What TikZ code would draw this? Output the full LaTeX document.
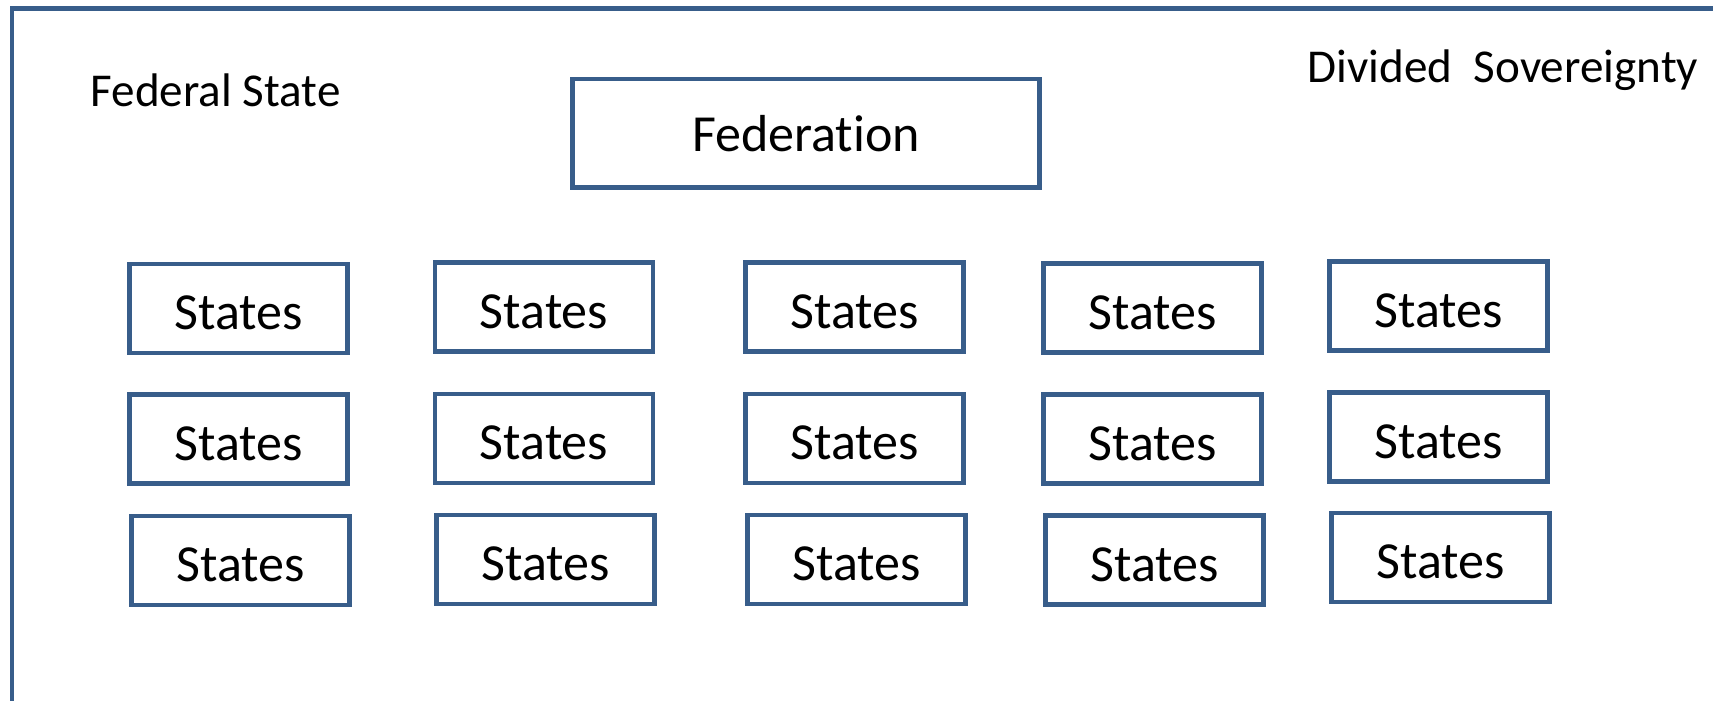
\documentclass[tikz,border=0pt]{standalone}
\usepackage{fontspec}
\setmainfont{Carlito}[Ligatures=NoCommon]
\definecolor{boxblue}{HTML}{385D8A}

\begin{document}
\begin{tikzpicture}[
			x=0.01cm, y=-0.01cm,
			outline/.style={draw=boxblue, line width=1.3pt, inner sep=0pt,
				font=\fontsize{14.8pt}{17pt}\selectfont},
			statebox/.style={outline, minimum width=2.18cm, minimum height=0.89cm,
				text height=0.42cm, text depth=0pt},
			fedbox/.style={outline, minimum width=4.67cm, minimum height=1.085cm},
			heading/.style={inner sep=0pt, anchor=base west,
				font=\fontsize{13.4pt}{16pt}\selectfont}
		]
		\useasboundingbox (0,0) rectangle (1713,701);
		% outer frame, runs off the right and bottom edges
		\draw[boxblue, line width=1.4pt] (12,701) -- (12,8.5) -- (1713,8.5);

		\node[heading] (federal) at (90,107) {Federal State};
		\node[heading] (divided) at (1307,83) {Divided\ \ Sovereignty};

		\node[fedbox] (fed) at (806,133.5) {Federation};

		\node[statebox] (s11) at (238.5,308.5) {States};
		\node[statebox] (s12) at (544,307) {States};
		\node[statebox] (s13) at (854.5,307) {States};
		\node[statebox] (s14) at (1152.5,308) {States};
		\node[statebox] (s15) at (1438.5,306) {States};

		\node[statebox] (s21) at (238.5,439) {States};
		\node[statebox] (s22) at (544,438.5) {States};
		\node[statebox] (s23) at (854.5,438.5) {States};
		\node[statebox] (s24) at (1152.5,439) {States};
		\node[statebox] (s25) at (1438.5,437) {States};

		\node[statebox] (s31) at (240.5,560.5) {States};
		\node[statebox] (s32) at (545.5,559.5) {States};
		\node[statebox] (s33) at (856.5,559.5) {States};
		\node[statebox] (s34) at (1154.5,560) {States};
		\node[statebox] (s35) at (1440.5,557.5) {States};
	\end{tikzpicture}
\end{document}
